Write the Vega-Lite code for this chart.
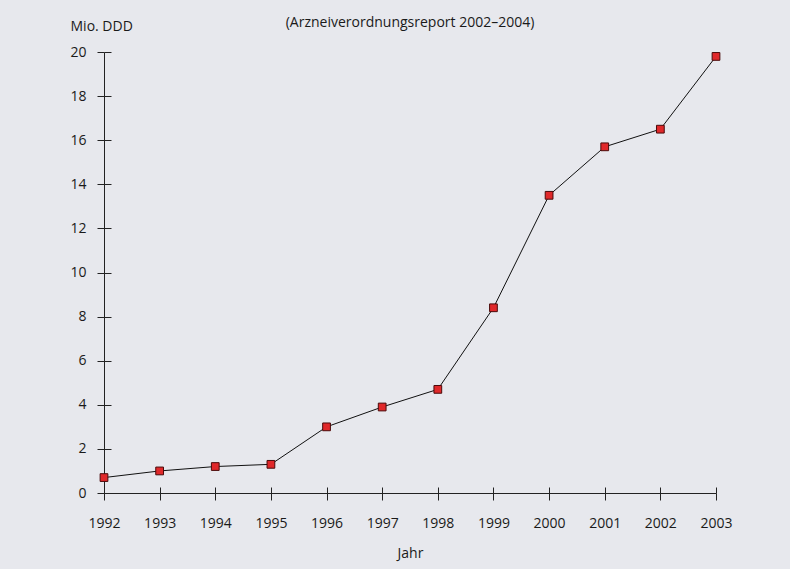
{
  "$schema": "https://vega.github.io/schema/vega-lite/v6.json",
  "width": 612,
  "height": 441,
  "autosize": {"type": "none"},
  "padding": {"left": 104, "top": 52, "right": 74, "bottom": 76},
  "background": "#e7e8ed",
  "config": {
    "view": {"stroke": null},
    "font": "Open Sans",
    "axis": {"grid": false, "domainColor": "#222222", "tickColor": "#222222", "labelColor": "#1a1a1a", "titleColor": "#1a1a1a", "labelFont": "Open Sans", "titleFont": "Open Sans", "labelFontSize": 14, "titleFontSize": 14, "titleFontWeight": "normal", "domainWidth": 1, "tickWidth": 1, "labelFlush": false, "labelOverlap": false}
  },
  "title": {"text": "(Arzneiverordnungsreport 2002–2004)", "anchor": "middle", "frame": "group", "fontSize": 14, "fontWeight": "normal", "font": "Open Sans", "color": "#1a1a1a", "offset": 16, "dy": 27},
  "data": {"values": [
    {"Jahr": 1992, "DDD": 0.7},
    {"Jahr": 1993, "DDD": 1.0},
    {"Jahr": 1994, "DDD": 1.2},
    {"Jahr": 1995, "DDD": 1.3},
    {"Jahr": 1996, "DDD": 3.0},
    {"Jahr": 1997, "DDD": 3.9},
    {"Jahr": 1998, "DDD": 4.7},
    {"Jahr": 1999, "DDD": 8.4},
    {"Jahr": 2000, "DDD": 13.5},
    {"Jahr": 2001, "DDD": 15.7},
    {"Jahr": 2002, "DDD": 16.5},
    {"Jahr": 2003, "DDD": 19.8}
  ]},
  "resolve": {"axis": {"x": "independent", "y": "independent"}},
  "layer": [
    {
      "mark": {"type": "line", "color": "#111111", "strokeWidth": 1},
      "encoding": {
        "x": {"field": "Jahr", "type": "quantitative", "scale": {"domain": [1992, 2003], "nice": false, "zero": false},
          "axis": {"orient": "bottom", "values": [1992,1993,1994,1995,1996,1997,1998,1999,2000,2001,2002,2003], "format": "d", "tickSize": 7, "labelPadding": 16, "title": "Jahr", "titlePadding": 16}},
        "y": {"field": "DDD", "type": "quantitative", "scale": {"domain": [0, 20], "nice": false},
          "axis": {"orient": "left", "values": [0,2,4,6,8,10,12,14,16,18,20], "tickSize": 7, "labelPadding": 11, "title": "Mio. DDD", "titleAngle": 0, "titleX": -34, "titleY": -22, "titleAlign": "left", "titleBaseline": "alphabetic"}}
      }
    },
    {
      "mark": {"type": "point", "shape": "square", "filled": true, "size": 60, "color": "#e0282a", "stroke": "#4a0a0a", "strokeWidth": 1, "opacity": 1},
      "encoding": {
        "x": {"field": "Jahr", "type": "quantitative", "scale": {"domain": [1992, 2003], "nice": false, "zero": false},
          "axis": {"orient": "bottom", "values": [1992,1993,1994,1995,1996,1997,1998,1999,2000,2001,2002,2003], "tickSize": -6, "labels": false, "domain": false, "title": null}},
        "y": {"field": "DDD", "type": "quantitative", "scale": {"domain": [0, 20], "nice": false},
          "axis": {"orient": "left", "values": [0,2,4,6,8,10,12,14,16,18,20], "tickSize": -7, "labels": false, "domain": false, "title": null}}
      }
    }
  ]
}
